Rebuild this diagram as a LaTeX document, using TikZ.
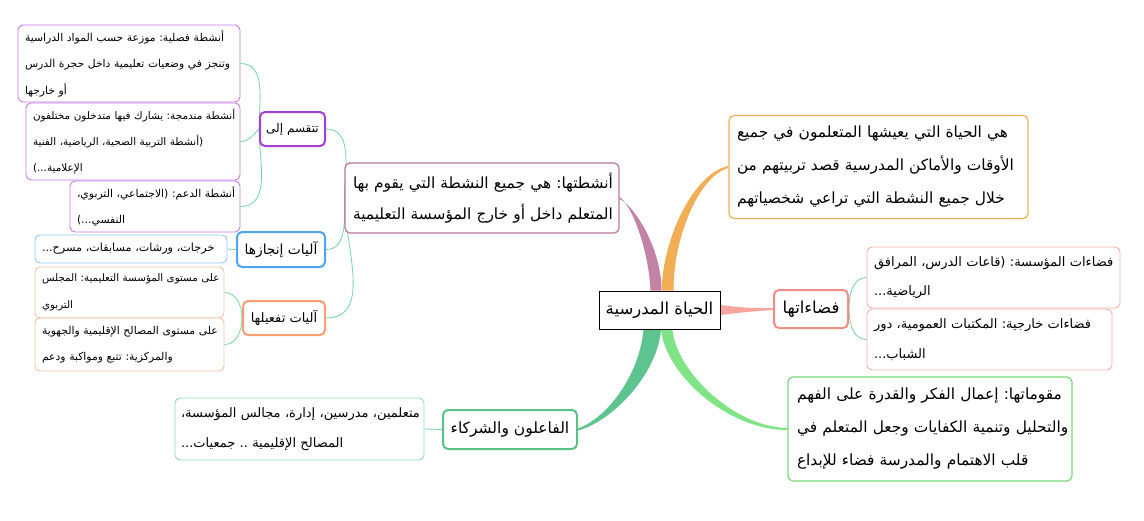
\documentclass[tikz,border=0pt]{standalone}
\usepackage{fontspec}
\usetikzlibrary{calc}
\TeXXeTstate=1
\frenchspacing
\newfontfamily\arabicfont[Script=Arabic]{DejaVu Sans}
\newcommand{\ar}[1]{\mbox{\beginR #1\endR}}
\pgfdeclarelayer{bg}
\pgfsetlayers{bg,main}
\definecolor{cmauve}{HTML}{C283A6}
\definecolor{bmauve}{HTML}{B9759D}
\definecolor{cora}{HTML}{F2AE55}
\definecolor{cpink}{HTML}{F7A59D}
\definecolor{bpink}{HTML}{F28D86}
\definecolor{lpink}{HTML}{F6B1AA}
\definecolor{cdg}{HTML}{5EC48F}
\definecolor{bdg}{HTML}{5BC189}
\definecolor{ldg}{HTML}{8EDDB0}
\definecolor{clg}{HTML}{7EE485}
\definecolor{blg}{HTML}{7AD97A}
\definecolor{bpur}{HTML}{A540D4}
\definecolor{lpur}{HTML}{C57AE6}
\definecolor{bblue}{HTML}{4FA5F2}
\definecolor{lblue}{HTML}{93C8F7}
\definecolor{bto}{HTML}{F99D72}
\definecolor{lto}{HTML}{F9C3A6}
\definecolor{thinc}{HTML}{72D5A0}
\begin{document}
\begin{tikzpicture}[x=1pt,y=-1pt,
  base/.style={fill=white, inner ysep=0pt, rounded corners=5pt},
  lvone/.style={base, draw, line width=1.2pt, inner xsep=8pt, align=left,
    font=\arabicfont\fontsize{15.4}{33}\selectfont},
  lbl/.style={base, draw, line width=2pt, inner xsep=2pt, align=center,
    font=\arabicfont\fontsize{15.5}{18}\selectfont},
  leaf/.style={base, draw, line width=0.9pt, inner xsep=7pt, align=left,
    font=\arabicfont\fontsize{10.8}{26.5}\selectfont},
  bigleaf/.style={leaf, font=\arabicfont\fontsize{13}{29.5}\selectfont},
  root/.style={fill=white, draw=black, line width=0.9pt, inner sep=0pt,
    minimum width=121pt, minimum height=38pt,
    font=\arabicfont\fontsize{16.5}{20}\selectfont},
  conn/.style={draw=thinc, line width=0.8pt}
]
\useasboundingbox (0,0) rectangle (1144,520);

\node[root] (ctr) at (659.5,310) {\ar{الحياة المدرسية}};

\node[lvone, draw=cora, text width=283pt, minimum height=103pt] (ora) at (878.5,167)
 {\ar{هي الحياة التي يعيشها المتعلمون في جميع}\\\ar{الأوقات والأماكن المدرسية قصد تربيتهم من}\\\ar{خلال جميع النشطة التي تراعي شخصياتهم}};

\node[lbl, draw=bpink, minimum width=74pt, minimum height=38pt, font=\arabicfont\fontsize{16.5}{18}\selectfont] (fad) at (811,309) {\ar{فضاءاتها}};
\node[bigleaf, draw=lpink, text width=239pt, minimum height=61pt] (fad1) at (993.5,277.5)
 {\ar{فضاءات المؤسسة: (قاعات الدرس، المرافق}\\\ar{الرياضية...}};
\node[bigleaf, draw=lpink, text width=231pt, minimum height=61pt] (fad2) at (989.5,339.5)
 {\ar{فضاءات خارجية: المكتبات العمومية، دور}\\\ar{الشباب...}};

\node[lvone, draw=blg, text width=266pt, minimum height=104pt, inner xsep=9pt] (mqw) at (930,429)
 {\ar{مقوماتها: إعمال الفكر والقدرة على الفهم}\\\ar{والتحليل وتنمية الكفايات وجعل المتعلم في}\\\ar{قلب الاهتمام والمدرسة فضاء للإبداع}};

\node[lbl, draw=bdg, minimum width=134pt, minimum height=39pt] (fal) at (510,429.5) {\ar{الفاعلون والشركاء}};
\node[bigleaf, draw=ldg, text width=237pt, minimum height=62pt, inner xsep=6pt] (fal1) at (299.5,429)
 {\ar{متعلمين، مدرسين، إدارة، مجالس المؤسسة،}\\\ar{المصالح الإقليمية .. جمعيات...}};

\node[lvone, draw=bmauve, text width=258pt, minimum height=70pt, font=\arabicfont\fontsize{15.4}{31}\selectfont] (nsh) at (482,198)
 {\ar{أنشطتها: هي جميع النشطة التي يقوم بها}\\\ar{المتعلم داخل أو خارج المؤسسة التعليمية}};

\node[lbl, draw=bpur, minimum width=65pt, minimum height=34pt, font=\arabicfont\fontsize{12}{16}\selectfont] (tq) at (292.5,129) {\ar{تتقسم إلى}};
\node[leaf, draw=lpur, text width=208pt, minimum height=77pt] (tq1) at (129,63.5)
 {\ar{أنشطة فصلية: موزعة حسب المواد الدراسية}\\\ar{وتنجز في وضعيات تعليمية داخل حجرة الدرس}\\\ar{أو خارجها}};
\node[leaf, draw=lpur, text width=200pt, minimum height=77pt, font=\arabicfont\fontsize{10.45}{26}\selectfont] (tq2) at (133,141.5)
 {\ar{أنشطة مندمجة: يشارك فيها متدخلون مختلفون}\\\ar{(أنشطة التربية الصحية، الرياضية، الفنية}\\\ar{الإعلامية...)}};
\node[leaf, draw=lpur, text width=156pt, minimum height=51pt] (tq3) at (155,206.5)
 {\ar{أنشطة الدعم: (الاجتماعي، التربوي،}\\\ar{النفسي...)}};

\node[lbl, draw=bblue, minimum width=88pt, minimum height=35pt, font=\arabicfont\fontsize{13.8}{16}\selectfont] (anj) at (281,249.5) {\ar{آليات إنجازها}};
\node[leaf, draw=lblue, text width=178pt, minimum height=28pt, font=\arabicfont\fontsize{11.2}{14}\selectfont] (anj1) at (131,249)
 {\ar{خرجات، ورشات، مسابقات، مسرح...}};

\node[lbl, draw=bto, minimum width=82pt, minimum height=34pt, font=\arabicfont\fontsize{13}{16}\selectfont] (tf) at (284,318) {\ar{آليات تفعيلها}};
\node[leaf, draw=lto, text width=175pt, minimum height=51pt, font=\arabicfont\fontsize{10.3}{26.5}\selectfont] (tf1) at (129.5,292.5)
 {\ar{على مستوى المؤسسة التعليمية: المجلس}\\\ar{التربوي}};
\node[leaf, draw=lto, text width=175pt, minimum height=53pt] (tf2) at (129.5,344.5)
 {\ar{على مستوى المصالح الإقليمية والجهوية}\\\ar{والمركزية: تتبع ومواكبة ودعم}};

\begin{pgfonlayer}{bg}
\fill[white] (0,0) rectangle (1144,520);
% tapered main branches
\fill[cmauve] ($(ctr.north)+(-9,0)$) .. controls ($(ctr.north)+(-11,-42)$) and ($(nsh.east)+(12,7)$) .. ($(nsh.east)+(0,-1)$)
  -- ($(nsh.east)+(0,1)$) .. controls ($(nsh.east)+(15,8)$) and ($(ctr.north)+(2,-42)$) .. ($(ctr.north)+(2,0)$) -- cycle;
\fill[cora] ($(ctr.north)+(2,0)$) .. controls ($(ctr.north)+(4,-58)$) and ($(ora.west)+(-32,5)$) .. ($(ora.west)+(0,-1)$)
  -- ($(ora.west)+(0,1)$) .. controls ($(ora.west)+(-28,8)$) and ($(ctr.north)+(14,-56)$) .. ($(ctr.north)+(14,0)$) -- cycle;
\fill[cdg] ($(ctr.south)+(-16,0)$) .. controls ($(ctr.south)+(-20,45)$) and ($(fal.east)+(30,-12)$) .. ($(fal.east)+(0,-1)$)
  -- ($(fal.east)+(0,1)$) .. controls ($(fal.east)+(34,-8)$) and ($(ctr.south)+(-2,45)$) .. ($(ctr.south)+(1.5,0)$) -- cycle;
\fill[clg] ($(ctr.south)+(1.5,0)$) .. controls ($(ctr.south)+(6,45)$) and ($(mqw.west)+(-60,1)$) .. ($(mqw.west)+(0,1)$)
  -- ($(mqw.west)+(0,-1)$) .. controls ($(mqw.west)+(-55,-2)$) and ($(ctr.south)+(16,40)$) .. ($(ctr.south)+(13,0)$) -- cycle;
\fill[cpink] ($(ctr.east)+(0,-5)$) .. controls ($(ctr.east)+(25,-2)$) .. ($(fad.west)+(0,-1)$)
  -- ($(fad.west)+(0,1)$) .. controls ($(ctr.east)+(25,2)$) .. ($(ctr.east)+(0,5)$) -- cycle;
% thin connectors
\draw[conn] (nsh.west) to[out=90,in=0] (tq.east);
\draw[conn] (nsh.west) to[out=-90,in=0] (anj.east);
\draw[conn] (nsh.west) to[out=-90,in=0] (tf.east);
\draw[conn] (tq.west) to[out=90,in=0] (tq1.east);
\draw[conn] (tq.west) to[out=-135,in=0] (tq2.east);
\draw[conn] (tq.west) to[out=-90,in=0] (tq3.east);
\draw[conn] (anj.west) -- (anj1.east);
\draw[conn] (tf.west) to[out=90,in=0] (tf1.east);
\draw[conn] (tf.west) to[out=-90,in=0] (tf2.east);
\draw[conn] (fad.east) to[out=90,in=180] (fad1.west);
\draw[conn] (fad.east) to[out=-90,in=180] (fad2.west);
\draw[conn] (fal.west) -- (fal1.east);
\end{pgfonlayer}
\end{tikzpicture}
\end{document}
